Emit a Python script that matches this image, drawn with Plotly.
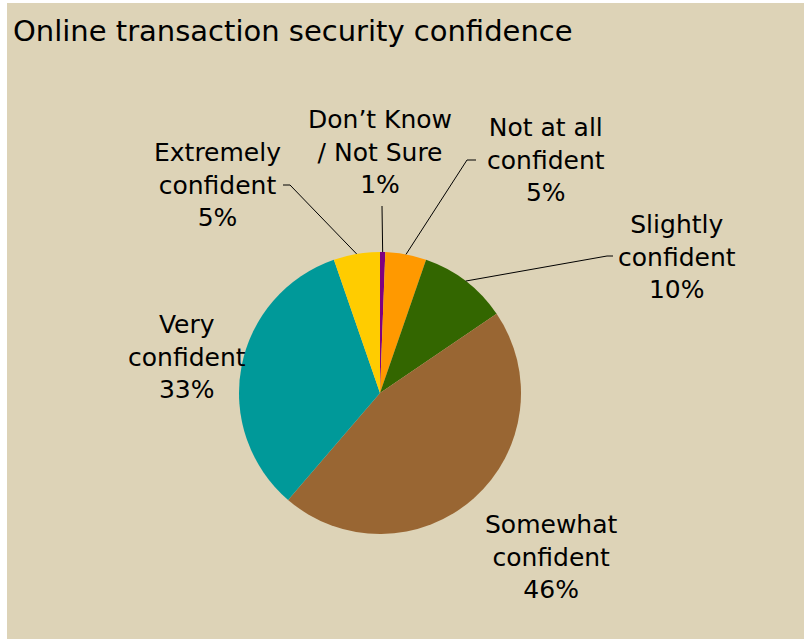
import math
import plotly.graph_objects as go

# ---- data ----
categories = ["Don’t Know / Not Sure", "Not at all confident", "Slightly confident",
              "Somewhat confident", "Very confident", "Extremely confident"]
label_lines = ["Don’t Know<br>/ Not Sure", "Not at all<br>confident", "Slightly<br>confident",
               "Somewhat<br>confident", "Very<br>confident", "Extremely<br>confident"]
values = [0.6, 4.7, 10.2, 45.8, 33.4, 5.3]
colors = ["#800080", "#FF9900", "#336600", "#996633", "#009999", "#FFCC00"]
title_text = "Online transaction security confidence"

# ---- layout constants (pixels) ----
W, H = 804, 639
CX, CY, R = 380, 393, 141
BG = "#DDD3B7"
FONT = "DejaVu Sans"
# label block centres
label_pos = [(380, 152), (546, 160), (677, 257), (551, 557), (187, 357), (217, 185)]
# leader-line elbows (None = no leader line): (elbow, tick end)
leaders = [((382, 206), None), ((467, 160), (476, 160)), ((607, 256), (613, 256)),
           None, None, ((290, 185), (283, 185))]


def px(x):
    return x / W


def py(y):
    return 1 - y / H


fig = go.Figure()
fig.add_trace(go.Pie(
    labels=categories, values=values, sort=False, direction="clockwise", rotation=0,
    marker=dict(colors=colors, line=dict(width=0)), textinfo="none", hoverinfo="label+percent",
    showlegend=False,
    domain=dict(x=[px(CX - R), px(CX + R)], y=[py(CY + R), py(CY - R)]),
))

total = sum(values)
annotations = []
shapes = [dict(type="rect", xref="paper", yref="paper", x0=px(7), x1=px(W), y0=py(H), y1=py(3),
               fillcolor=BG, line=dict(width=0), layer="below")]
cum = 0.0
for i, v in enumerate(values):
    mid = (cum + v / 2) / total * 2 * math.pi
    cum += v
    pct = f"{round(v / total * 100)}%"
    lx, ly = label_pos[i]
    annotations.append(dict(x=px(lx), y=py(ly), xref="paper", yref="paper", showarrow=False,
                            text=f"{label_lines[i]}<br>{pct}", align="center",
                            xanchor="center", yanchor="middle",
                            font=dict(family=FONT, size=25, color="#000000")))
    if leaders[i] is not None:
        (ex, ey), tick = leaders[i]
        sx = CX + R * math.sin(mid)
        sy = CY - R * math.cos(mid)
        path = f"M {px(sx)} {py(sy)} L {px(ex)} {py(ey)}"
        if tick is not None:
            path += f" L {px(tick[0])} {py(tick[1])}"
        shapes.append(dict(type="path", xref="paper", yref="paper", path=path,
                           line=dict(color="#000000", width=1)))

annotations.append(dict(x=px(11), y=py(31), xref="paper", yref="paper", showarrow=False,
                        text=title_text, xanchor="left", yanchor="middle",
                        font=dict(family=FONT, size=29, color="#000000")))

fig.update_layout(
    width=W, height=H, margin=dict(l=0, r=0, t=0, b=0),
    paper_bgcolor="#FFFFFF", plot_bgcolor="#FFFFFF",
    annotations=annotations, shapes=shapes,
)

fig.write_html("out.html", config={"displayModeBar": False},
               post_script="document.body.style.margin='0';document.body.style.overflow='hidden';")
